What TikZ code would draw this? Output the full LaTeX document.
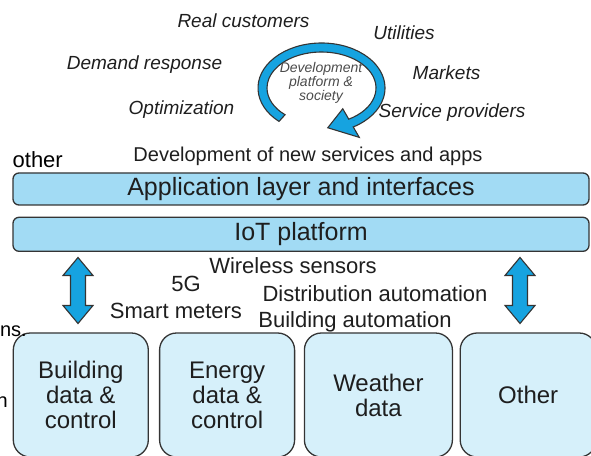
\documentclass[tikz,border=0pt]{standalone}
\usepackage{fontspec}
\setmainfont{Liberation Sans}
\usepackage{tikz}
\usetikzlibrary{positioning}

\definecolor{barblue}{RGB}{162,219,244}
\definecolor{boxblue}{RGB}{214,240,250}
\definecolor{cycleblue}{RGB}{22,163,224}
\definecolor{edgegrey}{RGB}{52,52,52}
\definecolor{inkgrey}{RGB}{30,30,30}
\definecolor{softgrey}{RGB}{75,75,75}

\begin{document}
\begin{tikzpicture}[x=1pt, y=1pt,
    every node/.style={inner sep=0pt, text=inkgrey},
    actor/.style={font=\fontsize{19}{22}\selectfont\itshape, anchor=base},
    tech/.style={font=\fontsize{22}{25}\selectfont, anchor=base},
    layer/.style={draw=edgegrey, line width=1.3pt, fill=barblue, rounded corners=6pt, minimum width=576pt, font=\fontsize{25}{30}\selectfont},
    databox/.style={draw=edgegrey, line width=1.3pt, fill=boxblue, rounded corners=17pt, minimum height=124pt, align=center, font=\fontsize{24}{25}\selectfont},
    blockarrow/.style={draw=edgegrey, line width=1.1pt, fill=cycleblue, line join=miter},
    stray/.style={font=\fontsize{22}{26}\selectfont, anchor=base east, text=black}]

    \useasboundingbox (0,0) rectangle (591,455);
    \clip (0,0) rectangle (591,455);

        %Actors round the cycle
        \node[actor]  (customers) at (243.5,427) {Real customers};
        \node[actor]  (utilities) at (404,415) {Utilities};
        \node[actor]  (demand) at (144.5,385) {Demand response};
        \node[actor]  (markets) at (446.5,375) {Markets};
        \node[actor]  (optim) at (181.5,340) {Optimization};
        \node[actor]  (providers) at (452,337) {Service providers};

        %Cycle arrow
        \begin{scope}[shift={(321.5,367)}]
            \draw[blockarrow] (228:63.5 and 45) arc[start angle=228, end angle=-60, x radius=63.5, y radius=45]
                -- (-60:75.5 and 57) -- (-84:60 and 40) -- (-60:42.5 and 24) -- (-60:54.5 and 36)
                arc[start angle=-60, end angle=228, x radius=54.5, y radius=36] -- cycle;
        \end{scope}
        \node[font=\fontsize{14}{14}\selectfont\itshape, align=center, text=softgrey] (society) at (321,372) {Development\\platform \&\\society};

        %Layers
        \node[font=\fontsize{20}{24}\selectfont, anchor=base] (services) at (308,293) {Development of new services and apps};
        \node[layer, minimum height=32pt] (app) at (301,266) {Application layer and interfaces};
        \node[layer, minimum height=34pt, below=11pt of app] (iot) {IoT platform};

        %Technologies
        \node[tech]  (wireless) at (293,181) {Wireless sensors};
        \node[tech]  (fiveg) at (186,163) {5G};
        \node[tech]  (distrib) at (375,153) {Distribution automation};
        \node[tech]  (meters) at (176,136) {Smart meters};
        \node[tech]  (bautom) at (355,127) {Building automation};

        %Data sources
        \node[databox, minimum width=135pt] (building) at (80.8,60) {Building\\data \&\\control};
        \node[databox, minimum width=135pt, right=10pt of building] (energy) {Energy\\data \&\\control};
        \node[databox, minimum width=148pt, right=8.5pt of energy] (weather) {Weather\\data};
        \node[databox, minimum width=136pt, right=6.5pt of weather] (other) {Other};

        %Up and down arrows
        \coordinate (linkL) at (78,164.5);
        \coordinate (linkR) at (520,164.5);
        \draw[blockarrow] ([yshift=33pt]linkL) -- ++(15,-18) -- ++(-7.5,0) -- ++(0,-30) -- ++(7.5,0) -- ++(-15,-18)
            -- ++(-15,18) -- ++(7.5,0) -- ++(0,30) -- ++(-7.5,0) -- cycle;
        \draw[blockarrow] ([yshift=33pt]linkR) -- ++(15,-18) -- ++(-7.5,0) -- ++(0,-30) -- ++(7.5,0) -- ++(-15,-18)
            -- ++(-15,18) -- ++(7.5,0) -- ++(0,30) -- ++(-7.5,0) -- cycle;

        %Cut-off words at the left edge
        \node[stray] (cutA) at (63,287) {other};
        \node[stray, font=\fontsize{20}{24}\selectfont] (cutB) at (27,118) {ns.};
        \node[stray, font=\fontsize{20}{24}\selectfont] (cutC) at (8,48) {n};

\end{tikzpicture}
\end{document}
